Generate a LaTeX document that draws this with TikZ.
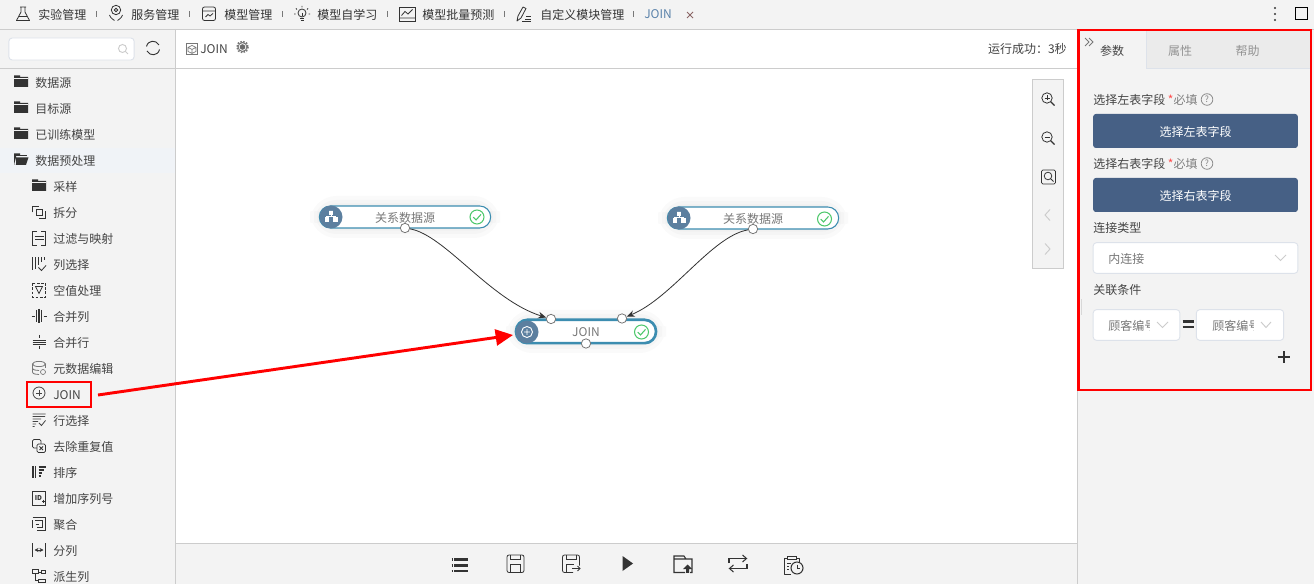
\documentclass[tikz,border=0pt]{standalone}
\usepackage{fontspec}
\setmainfont{Noto Sans CJK SC}
\usetikzlibrary{arrows.meta}
\definecolor{panel}{HTML}{F3F3F3}
\definecolor{rule}{HTML}{CCCCCC}
\definecolor{ink}{HTML}{444444}
\definecolor{dk}{HTML}{333333}
\definecolor{btn}{HTML}{466085}
\definecolor{edge}{HTML}{DDE2EA}
\definecolor{nodeb}{HTML}{3C8DB0}
\definecolor{iconb}{HTML}{5C7F9F}
\definecolor{okg}{HTML}{4CC76A}
\definecolor{gr}{HTML}{777777}
\definecolor{rowhi}{HTML}{F0F3F7}
\definecolor{tabbg}{HTML}{EBEBEB}
\definecolor{joinblue}{HTML}{5A82AA}
\tikzset{
 txt/.style={inner sep=0pt,anchor=west,font=\fontsize{9}{9}\selectfont,text=ink},
 mid/.style={inner sep=0pt,font=\fontsize{9}{9}\selectfont,text=ink},
 ico/.style={draw=dk,line width=.6pt,fill=none},
 selbox/.style={draw=edge,fill=white,line width=.7pt,rounded corners=2.5pt},
 port/.style={circle,draw=gr,fill=white,line width=.6pt,minimum size=7pt,inner sep=0pt},
 flow/.style={draw=dk,line width=.6pt,-{Stealth[length=6pt,width=5pt]}},
 redbox/.style={draw=red,line width=1.6pt,fill=none},
 btnbox/.style={fill=btn,rounded corners=2pt,inner sep=0pt,text=white,font=\fontsize{9}{9}\selectfont}
}
\newcommand{\ic}[2]{\begin{scope}[shift={(#1)}]#2\end{scope}}
\newcommand{\folder}[1]{\ic{#1}{\fill[dk] (-7,-5.5) rectangle (-1,-3.5) (-7,-4) rectangle (7,6);\fill[panel] (-7,-3.2) rectangle (7,-2.7);}}
\newcommand{\magn}{\draw[ico] (-1,-1) circle (5.2);\draw[ico,line width=.9pt] (2.8,2.8) -- (6.5,6.5);}
\newcommand{\okmark}[1]{\ic{#1}{\draw[okg,line width=.8pt,fill=white] (0,0) circle (7);\draw[okg,line width=.8pt] (-3.8,.2) -- (-1,3) -- (4,-2.6);}}
\newcommand{\softshadow}[4]{\foreach \w in {18,12,7}{\draw[line width=\w pt,draw=black!60,opacity=.03,rounded corners=11pt] (#1,#2) rectangle (#3,#4);}}
\begin{document}
\begin{tikzpicture}[x=.75pt,y=-.75pt]
\useasboundingbox (0,0) rectangle (1314,584);
% panels
\fill[white] (0,0) rectangle (1314,584);
\fill[panel] (0,0) rectangle (1314,29);
\fill[panel] (0,30) rectangle (175,584);
\fill[panel] (1078,30) rectangle (1314,584);
\fill[panel] (176,544) rectangle (1077,584);
\fill[rowhi] (0,148) rectangle (175,173);
\draw[rule,line width=.75pt] (0,29.3) -- (1314,29.3);
\draw[rule,line width=.75pt] (0,68.5) -- (1077,68.5);
\draw[rule,line width=.75pt] (175.5,29) -- (175.5,584);
\draw[rule,line width=.75pt] (1077.5,29) -- (1077.5,584);
\draw[rule,line width=.75pt] (176,543.5) -- (1077,543.5);
% top bar
\foreach \px/\ptxt/\pn in {38/实验管理/a,131/服务管理/b,224/模型管理/c,317/模型自学习/d,422/模型批量预测/e,540/自定义模块管理/f}{
  \node[txt,text=dk] (top\pn) at (\px,14.5) {\ptxt};}
\node[txt,text=joinblue] (topj) at (644,14.5) {JOIN};
\foreach \sx in {96.5,189.5,282.5,387.5,504.5,633.5}{\draw[gr,line width=.5pt] (\sx,11) -- (\sx,17);}
\draw[gr!85!red,line width=.6pt] (687,12) -- (693,18) (693,12) -- (687,18);
\fill[dk] (1275,8) circle (1.1) (1275,14) circle (1.1) (1275,20) circle (1.1);
\draw[black,line width=.75pt] (1295,7.5) rectangle (1307.5,20);
% top icons
\ic{23,14}{\draw[ico,line join=round] (-3,-7) -- (3,-7) (-2,-7) -- (-2,-2) -- (-6.5,6.5) -- (6.5,6.5) -- (2,-2) -- (2,-7) (-4,2.5) -- (4,2.5);}
\ic{116,13}{\draw[ico] (0,-3) circle (4.7) (0,-3) circle (1.8);\draw[ico] (-6.5,2) .. controls (-5,6) and (-3,6) .. (-1.5,7.5) (6.5,2) .. controls (5,6) and (3,6) .. (1.5,7.5);}
\ic{209,14}{\draw[ico,rounded corners=1.5pt] (-6.5,-7) rectangle (6.5,6.5);\draw[ico] (-6.5,-3) -- (6.5,-3) (-3.5,3) -- (-1,.5) -- (1,2) -- (4,-.5);}
\ic{302,14}{\draw[ico] (0,-1) circle (4);\draw[ico] (-2,4) -- (2,4) (-1.5,6) -- (1.5,6) (0,-1) -- (0,2);\draw[ico] (0,-8) -- (0,-6.5) (-6,-5.5) -- (-5,-4.5) (6,-5.5) -- (5,-4.5) (-8,0) -- (-6.5,0) (8,0) -- (6.5,0);}
\ic{407,14}{\draw[ico] (-8,-7) rectangle (8,7);\draw[ico] (-8,4) -- (8,4) (-5.5,1.5) -- (-2,-2.5) -- (1,0) -- (5.5,-4.5);}
\ic{524,14}{\draw[ico,line join=round] (-7,7) -- (-6,2) -- (-1,-7) -- (2,-5.5) -- (-3,4) -- cycle;\draw[ico] (2,2) -- (7,2) (1,5) -- (7,5) (-2,7.6) -- (7,7.6);}
% search
\node[draw=edge,fill=white,rounded corners=2.5pt,line width=.7pt,minimum width=94pt,minimum height=16.5pt,inner sep=0pt] (search) at (71.5,49) {};
\ic{123,49}{\draw[rule,line width=.7pt] (-.5,-.5) circle (4);\draw[rule,line width=.7pt] (2.5,2.5) -- (5,5);}
\ic{153,48}{\draw[dk,line width=.7pt] (-6.5,-1.5) .. controls (-5,-8) and (3,-8.5) .. (6,-3);\draw[dk,line width=.7pt] (6.5,1.5) .. controls (5,8) and (-3,8.5) .. (-6,3);}
% header
\ic{192,49}{\draw[gr,line width=.5pt] (-5.5,-5.5) rectangle (5.5,5.5);\draw[gr,line width=.5pt] (0,-3.5) -- (4,-1.5) -- (4,2.5) -- (0,4.5) -- (-4,2.5) -- (-4,-1.5) -- cycle (-4,-1.5) -- (0,.5) -- (4,-1.5) (0,.5) -- (0,4.5);}
\node[txt] (hjoin) at (200,49.5) {JOIN};
\ic{242.5,47}{\draw[gr,line width=.7pt] (0,0) circle (4.4);\draw[gr,line width=1.2pt,dash pattern=on 1.2pt off 1pt] (0,0) circle (5.6);\fill[gr!90!black] (0,0) circle (2.8);}
\node[txt,anchor=east] (hrun) at (1067,49) {运行成功：3秒};
% sidebar tree
\foreach \ry/\rt/\rn in {83/数据源/1,109/目标源/2,135/已训练模型/3,161/数据预处理/4}{\node[txt] (lv\rn) at (35,\ry) {\rt};}
\folder{21,81}\folder{21,107}\folder{21,133}
\ic{21,159}{\fill[dk] (-7,-5.5) rectangle (-1,-3.5) (-7,-4) rectangle (-5,6) (-7,6) -- (-5,-1.5) -- (7.5,-1.5) -- (5,6) -- cycle;\fill[dk] (-7,-4) rectangle (6,-2.5);}
\foreach \ry/\rt/\rn in {187/采样/a,213/拆分/b,239/过滤与映射/c,265/列选择/d,291/空值处理/e,317/合并列/f,343/合并行/g,369/元数据编辑/h,395/JOIN/i,421/行选择/j,447/去除重复值/k,473/排序/l,499/增加序列号/m,525/聚合/n,551/分列/o,577/派生列/p}{\node[txt] (sub\rn) at (53,\ry) {\rt};}
\folder{39,185}
\ic{39,212}{\draw[ico] (-2.5,-3) rectangle (3.5,3);\draw[ico] (-6.5,.5) -- (-6.5,-6) -- (0,-6) (6.5,-.5) -- (6.5,6) -- (0,6);}
\ic{39,238}{\draw[ico] (-2,-7) -- (-6.5,-7) -- (-6.5,7) -- (-2,7) (2,-7) -- (6.5,-7) -- (6.5,7) -- (2,7) (-4.5,-1.5) -- (4.5,-1.5) (4.5,1.5) -- (-4.5,1.5);}
\ic{39,264}{\draw[ico,line width=.8pt] (-6.5,-6.5) -- (-6.5,6.5) (-3.5,-6.5) -- (-3.5,5) (-.5,-6.5) -- (-.5,1) (2.5,-6.5) -- (2.5,-2) (5.5,-6.5) -- (5.5,-4);\draw[ico] (-.5,3.5) -- (2.5,6.5) -- (7,1.5);}
\ic{39,290}{\draw[ico,dash pattern=on 2pt off 1.2pt] (-6.5,-7) rectangle (6.5,7);\draw[ico] (-3.5,-3.5) -- (3.5,-3.5) -- (0,3.5) -- cycle;}
\ic{39,316}{\draw[ico,line width=.8pt] (-2.5,-6) -- (-2.5,6) (0,-7) -- (0,7) (2.5,-6) -- (2.5,6);\draw[ico] (-7.5,0) -- (-4.5,0) (4.5,0) -- (7.5,0);}
\ic{39,342}{\draw[ico] (-6.5,-2) -- (6.5,-2) (-6.5,0) -- (6.5,0) (-6.5,2) -- (6.5,2) (0,-7) -- (0,-4) (0,4) -- (0,7);}
\ic{39,368}{\draw[ico,draw=gr] (0,-4) ellipse (6.5 and 2.6);\draw[ico,draw=gr] (-6.5,-4) -- (-6.5,4) .. controls (-6.5,6) and (-3,6.5) .. (0,6.5) (6.5,-4) -- (6.5,0) (-6.5,0) .. controls (-6.5,2) and (-3,2.5) .. (0,2.5);\draw[gr,line width=.5pt] (4,4) circle (2.5);}
\ic{39,393}{\draw[ico,draw=ink] (0,0) circle (6);\draw[ico,draw=ink] (-3,0) -- (3,0) (0,-3) -- (0,3);}
\ic{39,420}{\draw[ico,draw=ink] (-6.5,-6) -- (6.5,-6) (-6.5,-3.5) -- (6,-3.5) (-6.5,-1) -- (2,-1) (-6.5,1.5) -- (-1,1.5) (-6.5,4) -- (-3,4) (-6.5,6.5) -- (-4.5,6.5) (0,3) -- (2.5,5.5) -- (6.5,.5);}
\ic{39,446}{\draw[ico,rounded corners=1pt] (-6.5,-6.5) rectangle (2,2);\draw[ico,fill=panel,rounded corners=1pt] (-2,-2) rectangle (6.5,6.5);\draw[ico] (.5,.5) -- (4,4) (4,.5) -- (.5,4);}
\ic{39,472}{\draw[ico,line width=.8pt] (-6,-6) -- (-6,6) (-3.5,-6) -- (-3.5,6);\draw[ico,line width=.8pt] (-.5,-5) -- (6.5,-5) (-.5,-2) -- (5,-2) (-.5,1) -- (3,1) (-.5,4) -- (1.5,4);}
\ic{39,498}{\draw[ico] (-6.5,-7) rectangle (6.5,7);\node[inner sep=0pt,font=\bfseries\fontsize{5}{5}\selectfont,text=dk] (idtag) at (-.5,.5) {ID};\draw[ico] (3,3) -- (6,3) (4.5,1.5) -- (4.5,4.5);}
\ic{39,524}{\draw[ico] (-6.5,-6.5) -- (6.5,-6.5) -- (6.5,6.5) -- (-2,6.5) (-6.5,-4) -- (-6.5,4) (-4,-3.5) -- (3.5,-3.5) -- (3.5,3.5) -- (-2,3.5) (-3.5,0) -- (0,0);}
\ic{39,550}{\draw[ico] (-6.5,-7) -- (-6.5,7) (6.5,-7) -- (6.5,7);\draw[ico,{Stealth[length=3pt,width=3pt]}-{Stealth[length=3pt,width=3pt]}] (-4.5,0) -- (4.5,0);}
\ic{39,576}{\draw[ico] (-6.5,-6.5) rectangle (-1,-2.5) (-1,3) rectangle (6.5,6.5) (2,-5.5) rectangle (6.5,-2.5);\draw[ico] (-4,-2.5) -- (-4,4.5) -- (-1,4.5) (-1,-4) -- (2,-4);}
\node[redbox,minimum width=48pt,minimum height=18.5pt,inner sep=0pt] (joinbox) at (59,394.5) {};
% canvas nodes
\softshadow{322}{208}{488}{226}
\softshadow{670}{209}{836}{227}
\softshadow{518}{322}{654}{341}
\node[draw=nodeb,fill=white,line width=.8pt,rounded corners=8.2pt,minimum width=128.5pt,minimum height=16.5pt,inner sep=0pt] (srcA) at (405,217) {};
\node[inner sep=0pt,text=gr,font=\fontsize{9}{9}\selectfont] (srcAt) at (405,218) {关系数据源};
\node[draw=nodeb,fill=white,line width=.8pt,rounded corners=8.2pt,minimum width=128.5pt,minimum height=16.5pt,inner sep=0pt] (srcB) at (753,218) {};
\node[inner sep=0pt,text=gr,font=\fontsize{9}{9}\selectfont] (srcBt) at (753,219) {关系数据源};
\node[draw=nodeb,fill=white,line width=2pt,rounded corners=8.5pt,minimum width=105pt,minimum height=17.5pt,inner sep=0pt] (join) at (586,331.5) {};
\node[inner sep=0pt,text=gr,font=\fontsize{9}{9}\selectfont] (joint) at (586,332) {JOIN};
\foreach \cx/\cy in {331/217,679/218}{
 \ic{\cx,\cy}{\fill[iconb] (0,0) circle (11.5);\draw[white,line width=.6pt,fill=white] (-1.8,-6) rectangle (1.8,-2.6) (-6,.6) rectangle (-2.4,4) (2.4,.6) rectangle (6,4);\draw[white,line width=.5pt] (0,-2.6) -- (0,-1) (-4.2,.6) -- (-4.2,-1) -- (4.2,-1) -- (4.2,.6);}}
\ic{527,332}{\fill[iconb] (0,0) circle (11.5);\draw[white,line width=.7pt] (0,0) circle (5.5) (-2.8,0) -- (2.8,0) (0,-2.8) -- (0,2.8);}
\okmark{477,217}\okmark{824.5,219}\okmark{641.5,332}
\node[port] (pA) at (405,228) {};
\node[port] (pB) at (753,229) {};
\node[port] (pL) at (551,319) {};
\node[port] (pR) at (622,318.5) {};
\node[port] (pO) at (586,343.5) {};
\draw[flow] (pA) .. controls (445,235) and (490,300) .. (pL);
\draw[flow] (pB) .. controls (712,236) and (672,298) .. (pR);
% long red arrow
\coordinate (rs) at (98,395);
\coordinate (rt) at (513,335);
\draw[draw=red,line width=2.2pt,-{Triangle[length=13pt,width=12pt]}] (rs) -- (rt);
% zoom toolbar
\node[draw=rule,fill=panel,line width=.75pt,minimum width=23.5pt,minimum height=142pt,inner sep=0pt] (tools) at (1048,174) {};
\ic{1048,99}{\magn\draw[ico] (-3.5,-1) -- (1.5,-1) (-1,-3.5) -- (-1,1.5);}
\ic{1048,138}{\magn\draw[ico] (-3.5,-1) -- (1.5,-1);}
\ic{1048.5,177}{\draw[ico,rounded corners=1pt,draw=dk] (-7,-7) rectangle (7,7);\draw[ico] (-.5,-1) circle (3.8);\draw[ico] (2.2,1.8) -- (5,4.5);}
\draw[rule,line width=.7pt] (1050,209.5) -- (1045,215) -- (1050,220.5) (1045,243.5) -- (1050,249) -- (1045,254.5);
% right panel
\fill[tabbg] (1147,30) rectangle (1310,68);
\draw[edge,line width=.6pt] (1146.7,30) -- (1146.7,68) -- (1310,68);
\draw[gr,line width=.6pt] (1085,38) -- (1089,42) -- (1085,46) (1089,38) -- (1093,42) -- (1089,46);
\node[mid] (tab1) at (1112,50.5) {参数};
\node[mid,text=gray!85] (tab2) at (1180,50.5) {属性};
\node[mid,text=gray!85] (tab3) at (1247.5,50.5) {帮助};
\node[txt] (lblL) at (1093,99.5) {选择左表字段 \textcolor{red!70}{*}\textcolor{gray}{必填}};
\node[txt] (lblR) at (1093,163.5) {选择右表字段 \textcolor{red!70}{*}\textcolor{gray}{必填}};
\foreach \qy/\qn in {99.5/a,163.5/b}{\node[circle,draw=gray!90,line width=.6pt,inner sep=0pt,minimum size=8.7pt,text=gray,font=\fontsize{6.5}{6.5}\selectfont] (q\qn) at (1207,\qy) {?};}
\node[btnbox,minimum width=153.5pt,minimum height=25.5pt] (btnL) at (1195.5,131) {};
\node[inner sep=0pt,text=white,font=\fontsize{9}{9}\selectfont] (btnLt) at (1195.5,132) {选择左表字段};
\node[btnbox,minimum width=153.5pt,minimum height=25.5pt] (btnR) at (1195.5,195) {};
\node[inner sep=0pt,text=white,font=\fontsize{9}{9}\selectfont] (btnRt) at (1195.5,196) {选择右表字段};
\node[txt] (lblT) at (1093,227.5) {连接类型};
\node[selbox,minimum width=153.5pt,minimum height=23pt,inner sep=0pt] (selT) at (1195.5,258) {};
\node[txt,text=gr] (selTt) at (1108,258.5) {内连接};
\node[txt] (lblC) at (1093,289.5) {关联条件};
\node[selbox,minimum width=65pt,minimum height=23pt,inner sep=0pt] (selA) at (1136.5,325) {};
\node[selbox,minimum width=65.5pt,minimum height=23pt,inner sep=0pt] (selB) at (1240,325) {};
\begin{scope}\clip (1105,315) rectangle (1149.5,335);\node[txt,text=gr] (selAt) at (1108,325.5) {顾客编号};\end{scope}
\begin{scope}\clip (1208,315) rectangle (1253,335);\node[txt,text=gr] (selBt) at (1212,325.5) {顾客编号};\end{scope}
\draw[rule,line width=.7pt] (1275,255) -- (1280.5,260.5) -- (1286,255);
\draw[rule,line width=.7pt] (1157,322) -- (1162.5,327.5) -- (1168,322);
\draw[rule,line width=.7pt] (1261,322) -- (1266,327.5) -- (1271,322);
\draw[dk,line width=1.7pt] (1182.5,321.5) -- (1194,321.5) (1182.5,327) -- (1194,327);
\draw[dk,line width=1.5pt] (1277.5,357.5) -- (1289.5,357.5) (1283.5,351.5) -- (1283.5,363.5);
\fill[rule!70!panel] (1080.5,299) rectangle (1082,315);
\draw[redbox,line width=2.2pt] (1078.5,30) rectangle (1311,390);
% bottom bar
\ic{460,565}{\draw[dk,line width=1.7pt] (-6,-5.5) -- (8,-5.5) (-6,.5) -- (8,.5) (-6,6) -- (8,6);\draw[dk,line width=1.7pt] (-8.5,-5.5) -- (-7,-5.5) (-8.5,.5) -- (-7,.5) (-8.5,6) -- (-7,6);}
\ic{515.5,563.5}{\draw[ico,rounded corners=1.5pt] (-8.5,-8.5) rectangle (8.5,9);\draw[ico] (-5,-8.5) -- (-5,-4.5) -- (5,-4.5) -- (5,-8.5) (-5,9) -- (-5,1) -- (5,1) -- (5,9);}
\ic{571,563.5}{\draw[ico,rounded corners=1.5pt] (8.5,2) -- (8.5,-8.5) -- (-8.5,-8.5) -- (-8.5,9) -- (2,9);\draw[ico] (-5,-8.5) -- (-5,-4.5) -- (5,-4.5) -- (5,-8.5) (-5,9) -- (-5,1) -- (3,1);\draw[ico] (1,5) -- (9,5) (6.5,2.5) -- (9,5) -- (6.5,7.5);}
\fill[dk] (622.5,556) -- (633,563.5) -- (622.5,571) -- cycle;
\ic{683,564}{\draw[ico,line width=.8pt] (2,8.5) -- (-9,8.5) -- (-9,-8) -- (1,-8) -- (3,-5) -- (9,-5) -- (9,8.5) -- (7,8.5) (-9,-5) -- (3,-5);\fill[dk] (4.5,.5) -- (9,5) -- (6,5) -- (6,8.8) -- (3,8.8) -- (3,5) -- (0,5) -- cycle;}
\ic{738,563.5}{\draw[ico,line width=.8pt] (-9,-.5) -- (-9,-5) -- (8,-5) (9,.5) -- (9,5) -- (-8,5);\draw[ico,line width=.8pt] (4.5,-8.5) -- (8.5,-5) -- (4.5,-1.5) (-4.5,1.5) -- (-8.5,5) -- (-4.5,8.5);}
\ic{793,565}{\draw[ico,line join=round] (-2,9) -- (-9,9) -- (-9,-7) -- (-6,-7) (4,-7) -- (6,-7) -- (6,-3);\draw[ico] (-6,-9) rectangle (3,-5.5);\draw[ico] (-6,-2) -- (-2,-2) (-6,1) -- (-4,1) (-6,4) -- (-4,4);\draw[ico,line width=.8pt] (4,3) circle (6);\draw[ico] (4,-.5) -- (4,3) -- (7,3);}
\end{tikzpicture}
\end{document}
